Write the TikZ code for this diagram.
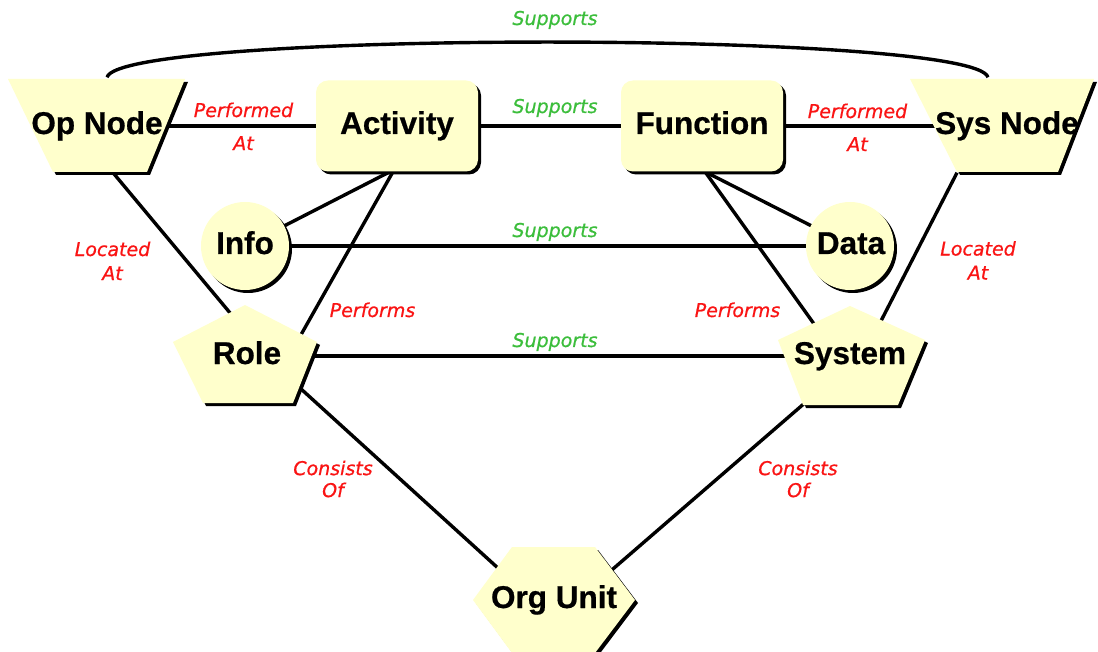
\documentclass[tikz,border=0pt]{standalone}
\usepackage{fontspec}
\usetikzlibrary{shadows,calc}
\newfontfamily\boxfont{Liberation Sans}[BoldFeatures={FakeBold=0.6}]
\newfontfamily\tagfont{DejaVu Sans}[ItalicFeatures={FakeBold=0.7}]
\definecolor{pale}{RGB}{255,255,204}
\definecolor{tagred}{RGB}{250,20,20}
\definecolor{taggreen}{RGB}{60,190,60}
\pgfdeclarelayer{edges}
\pgfsetlayers{edges,main}
\begin{document}
\begin{tikzpicture}[x=1pt,y=-1pt,
  blob/.style={fill=pale, general shadow={fill=black, shadow xshift=3pt, shadow yshift=-3pt}},
  caption/.style={font=\boxfont\bfseries\fontsize{31.5}{36}\selectfont,
    text height=23pt, text depth=7pt, inner sep=0pt},
  rel/.style={font=\tagfont\itshape\fontsize{19}{#1}\selectfont, text=tagred,
    inner sep=0pt, align=center},
  rel/.default=22,
  sup/.style={font=\tagfont\itshape\fontsize{19}{22}\selectfont, text=taggreen,
    inner sep=0pt, anchor=base},
  link/.style={line width=3.4pt, black}]
\useasboundingbox (0,0) rectangle (1098,652);
\begin{pgfonlayer}{edges}
\fill[white] (0,0) rectangle (1098,652);
\end{pgfonlayer}

% ---- shapes ----
\fill[blob] (8,79) -- (185,79) -- (147,172) -- (53,172) -- cycle;
\fill[blob] (910,79) -- (1094,79) -- (1058,172) -- (957,172) -- cycle;
\fill[blob, rounded corners=12pt] (316,80.5) rectangle (478,171.5);
\fill[blob, rounded corners=12pt] (621,80.5) rectangle (783,171.5);
\fill[blob] (245,246) circle[radius=44];
\fill[blob] (850,246) circle[radius=44];
\fill[blob] (245,305) -- (317,342) -- (293,403) -- (203,403) -- (173,342) -- cycle;
\fill[blob] (850,306) -- (925,340) -- (898,405) -- (803,405) -- (778,340) -- cycle;
\fill[blob] (473,600) -- (512,547) -- (595,547) -- (635,600) -- (595,653) -- (512,653) -- cycle;

% ---- named entities ----
\node[caption, minimum width=177pt, minimum height=93pt] (opnode) at (97,126) {Op Node};
\node[caption, minimum width=162pt, minimum height=91pt] (activity) at (397,126) {Activity};
\node[caption, minimum width=162pt, minimum height=91pt] (function) at (702,126) {Function};
\node[caption, minimum width=184pt, minimum height=93pt] (sysnode) at (1007,126) {Sys Node};
\node[caption, minimum size=88pt] (info) at (245,246) {Info};
\node[caption, minimum size=88pt] (data) at (851,246) {Data};
\node[caption, minimum width=144pt, minimum height=98pt] (role) at (247,356) {Role};
\node[caption, minimum width=147pt, minimum height=99pt] (system) at (850,356) {System};
\node[caption, minimum width=162pt, minimum height=106pt] (orgunit) at (554,600) {Org Unit};

% ---- connectors ----
\begin{pgfonlayer}{edges}
\draw[link] ($(opnode.north)+(10,-2)$) .. controls +(13,-47) and +(-13,-47) .. ($(sysnode.north)+(-19,-2)$);
\draw[link] (opnode.center) -- (activity.center);
\draw[link] (activity.center) -- (function.center);
\draw[link] (function.center) -- (sysnode.center);
\draw[link] ($(opnode.south)+(16,0)$) -- ($(role.center)+(19,0)$);
\draw[link] ($(sysnode.south)+(-50,0)$) -- ($(system.center)+(13,0)$);
\draw[link] ($(activity.south)+(-7,0)$) -- (info.center);
\draw[link] ($(activity.south)+(-4,0)$) -- ($(role.center)+(42,0)$);
\draw[link] ($(function.south)+(3,0)$) -- (data.center);
\draw[link] ($(function.south)+(3,0)$) -- ($(system.center)+(-13,0)$);
\draw[link] (info.center) -- (data.center);
\draw[link] (role.center) -- (system.center);
\draw[link] ($(role.center)+(-2,-18)$) -- ($(orgunit.center)+(0,19)$);
\draw[link] ($(system.center)+(1,7)$) -- ($(orgunit.center)+(0,20)$);
\end{pgfonlayer}

% ---- relation labels ----
\node[sup] (s1) at (555,25) {Supports};
\node[sup] (s2) at (555,113) {Supports};
\node[sup] (s3) at (555,237) {Supports};
\node[sup] (s4) at (555,347) {Supports};
\node[rel=33] (pa1) at (243.5,126.3) {Performed\\At};
\node[rel=33] (pa2) at (857.5,127.3) {Performed\\At};
\node[rel=24] (la1) at (112.5,260.8) {Located\\At};
\node[rel=24] (la2) at (978,260.3) {Located\\At};
\node[rel, anchor=base] (pf1) at (372.5,317) {Performs};
\node[rel, anchor=base] (pf2) at (737.5,317) {Performs};
\node[rel=22] (co1) at (333,479) {Consists\\Of};
\node[rel=22] (co2) at (798,479) {Consists\\Of};
\end{tikzpicture}
\end{document}
